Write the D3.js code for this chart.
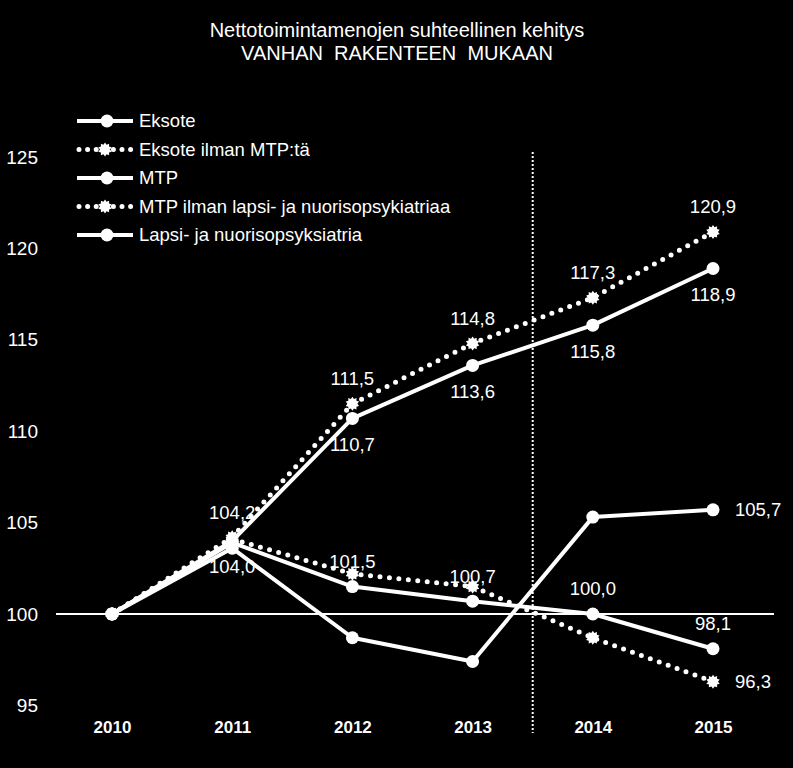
<!DOCTYPE html>
<html>
<head>
<meta charset="utf-8">
<script src="https://cdn.jsdelivr.net/npm/d3@7"></script>
<style>
  html, body { margin: 0; padding: 0; background: #000; }
  svg { display: block; }
  text { font-family: "Liberation Sans", Arial, sans-serif; fill: #fff; }
</style>
</head>
<body>
<svg id="chart" width="793" height="768"></svg>
<script>
// ---- data ----
const titleLines = ["Nettotoimintamenojen suhteellinen kehitys", "VANHAN  RAKENTEEN  MUKAAN"];
const years = [2010, 2011, 2012, 2013, 2014, 2015];
const eksote = [100, 104.0, 110.7, 113.6, 115.8, 118.9];
const eksoteIlmanMTP = [100, 104.2, 111.5, 114.8, 117.3, 120.9];
const mtp = [100, 103.9, 101.5, 100.7, 100.0, 98.1];
const mtpIlmanLapsi = [100, 104.1, 102.2, 101.5, 98.7, 96.3];
const lapsi = [100, 103.6, 98.7, 97.4, 105.3, 105.7];
const yTicks = [95, 100, 105, 110, 115, 120, 125];
const seriesNames = ["Eksote", "Eksote ilman MTP:tä", "MTP", "MTP ilman lapsi- ja nuorisopsykiatriaa", "Lapsi- ja nuorisopsyksiatria"];
// which years carry a value label, per series
const eksoteLabelYears = [2011, 2012, 2013, 2014, 2015];
const eksoteIlmanLabelYears = [2011, 2012, 2013, 2014, 2015];
const mtpLabelYears = [2012, 2013, 2014, 2015];
const mtpIlmanLabelYears = [2015];
const lapsiLabelYears = [2015];

const series = [
  { name: seriesNames[0], values: eksote, dotted: false, labelYears: eksoteLabelYears, pos: "below" },
  { name: seriesNames[1], values: eksoteIlmanMTP, dotted: true, labelYears: eksoteIlmanLabelYears, pos: "above" },
  { name: seriesNames[2], values: mtp, dotted: false, labelYears: mtpLabelYears, pos: "above" },
  { name: seriesNames[3], values: mtpIlmanLapsi, dotted: true, labelYears: mtpIlmanLabelYears, pos: "right" },
  { name: seriesNames[4], values: lapsi, dotted: false, labelYears: lapsiLabelYears, pos: "right" }
];

// ---- layout ----
const svg = d3.select("#chart");
svg.append("rect").attr("width", 793).attr("height", 768).attr("fill", "#000");

const x = d3.scalePoint().domain(years).range([112, 713]);
const y = d3.scaleLinear().domain([95, 125]).range([705.4, 157]);
const fmt = v => d3.format(".1f")(v).replace(".", ",");

// title
svg.append("g").selectAll("text").data(titleLines).join("text")
  .attr("x", 397).attr("y", (d, i) => 30 + i * 23)
  .attr("dy", "0.35em").attr("text-anchor", "middle")
  .style("font-size", "20px").style("white-space", "pre")
  .attr("xml:space", "preserve")
  .text(d => d);

// y axis labels
const yAxis = svg.append("g").attr("transform", "translate(40,0)")
  .call(d3.axisLeft(y).tickValues(yTicks).tickSize(0).tickPadding(2).tickFormat(d3.format("d")));
yAxis.select(".domain").remove();
yAxis.selectAll("text").style("font-size", "19px").style("font-family", "'Liberation Sans', Arial, sans-serif").attr("fill", "#fff");

// x axis labels
const xAxis = svg.append("g").attr("transform", "translate(0,721)")
  .call(d3.axisBottom(x).tickSize(0).tickPadding(0).tickFormat(d3.format("d")));
xAxis.select(".domain").remove();
xAxis.selectAll("text").style("font-size", "17px").style("font-weight", "bold")
  .style("font-family", "'Liberation Sans', Arial, sans-serif").attr("fill", "#fff");

// baseline at 100
svg.append("line")
  .attr("x1", 56).attr("x2", 774)
  .attr("y1", y(100)).attr("y2", y(100))
  .attr("stroke", "#fff").attr("stroke-width", 2);

// vertical divider between 2013 and 2014
const xDiv = (x(2013) + x(2014)) / 2;
svg.append("line")
  .attr("x1", xDiv).attr("x2", xDiv)
  .attr("y1", 152).attr("y2", 733)
  .attr("stroke", "#fff").attr("stroke-width", 2)
  .attr("stroke-dasharray", "2 2");

// star/cog marker path
function cog(r1, r2, n) {
  const pts = [];
  for (let i = 0; i < 2 * n; i++) {
    const a = Math.PI * i / n;
    const r = i % 2 === 0 ? r1 : r2;
    pts.push([a, r]);
  }
  return d3.lineRadial().angle(d => d[0]).radius(d => d[1]).curve(d3.curveLinearClosed)(pts);
}
const cogPath = cog(7, 5, 10);

const line = d3.line().x((d, i) => x(years[i])).y(d => y(d));

const g = svg.append("g");
series.forEach(s => {
  const path = g.append("path").datum(s.values)
    .attr("d", line)
    .attr("fill", "none")
    .attr("stroke", "#fff");
  if (s.dotted) {
    path.attr("stroke-width", 5).attr("stroke-linecap", "round").attr("stroke-dasharray", "0 9.5");
  } else {
    path.attr("stroke-width", 4).attr("stroke-linejoin", "round");
  }
  // markers
  if (s.dotted) {
    g.selectAll(null).data(s.values).join("path")
      .attr("d", cogPath)
      .attr("transform", (d, i) => `translate(${x(years[i])},${y(d)})`)
      .attr("fill", "#fff");
  } else {
    g.selectAll(null).data(s.values).join("circle")
      .attr("cx", (d, i) => x(years[i])).attr("cy", d => y(d))
      .attr("r", 6.5).attr("fill", "#fff");
  }
});

// value labels
const lg = svg.append("g");
series.forEach(s => {
  const lbl = s.labelYears.map(yr => ({ yr, v: s.values[years.indexOf(yr)] }));
  lg.selectAll(null).data(lbl).join("text")
    .attr("x", d => s.pos === "right" ? x(d.yr) + 22 : x(d.yr))
    .attr("y", d => s.pos === "above" ? y(d.v) - 25 : s.pos === "below" ? y(d.v) + 26 : y(d.v))
    .attr("dy", "0.35em")
    .attr("text-anchor", s.pos === "right" ? "start" : "middle")
    .style("font-size", "18.5px")
    .text(d => fmt(d.v));
});

// legend
const legend = svg.append("g");
series.forEach((s, i) => {
  const ly = 121 + i * 28.5;
  const row = legend.append("g").attr("transform", `translate(0,${ly})`);
  const l = row.append("line").attr("x1", 79).attr("x2", 131).attr("y1", 0).attr("y2", 0).attr("stroke", "#fff");
  if (s.dotted) {
    l.attr("stroke-width", 5).attr("stroke-linecap", "round").attr("stroke-dasharray", "0 8.6");
    row.append("path").attr("d", cogPath).attr("transform", "translate(105,0)").attr("fill", "#fff");
  } else {
    l.attr("stroke-width", 4).attr("x1", 77).attr("x2", 133);
    row.append("circle").attr("cx", 107).attr("cy", 0).attr("r", 6.5).attr("fill", "#fff");
  }
  row.append("text").attr("x", 139).attr("y", 0).attr("dy", "0.35em")
    .style("font-size", "18.5px").text(s.name);
});
</script>
</body>
</html>
